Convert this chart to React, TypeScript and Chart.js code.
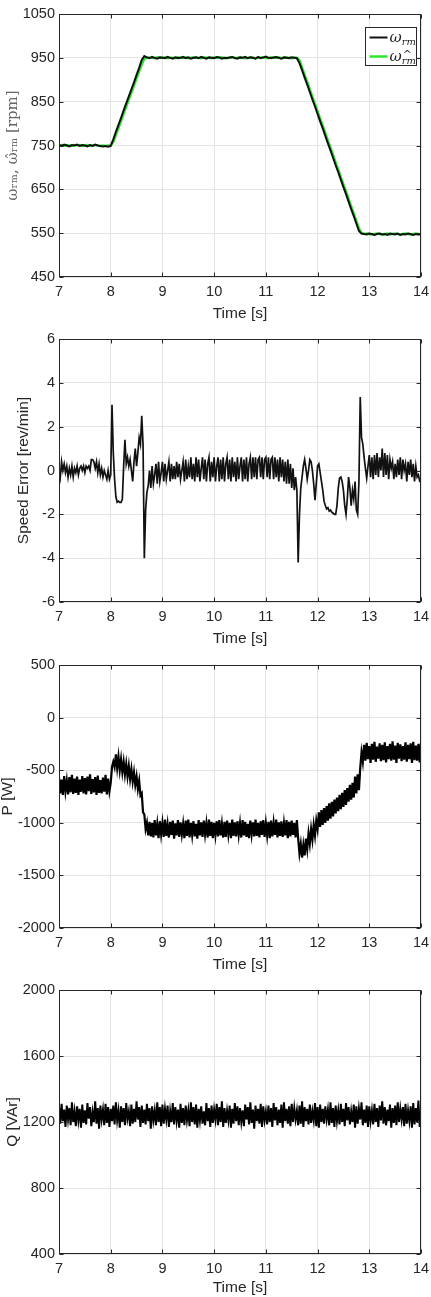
import React, { useEffect, useRef } from "react";
import { Chart, registerables } from "chart.js";

Chart.register(...registerables);

// ---------------- data ----------------
const TIME_START = 7;
const SPEED_STEP = 0.05; // s, panel 1 samples
const FINE_STEP = 0.025; // s, panels 2-4 samples

const TIME_TICKS = [7, 8, 9, 10, 11, 12, 13, 14];
const SPEED_TICKS = [450, 550, 650, 750, 850, 950, 1050];
const ERROR_TICKS = [-6, -4, -2, 0, 2, 4, 6];
const P_TICKS = [-2000, -1500, -1000, -500, 0, 500];
const Q_TICKS = [400, 800, 1200, 1600, 2000];

// measured rotor speed [rpm], 7.00 s .. 14.00 s every 0.05 s
const speedMeasured = [
  751, 749, 752, 750, 748, 751, 750, 752, 749, 751, 750, 748, 751, 749, 752, 750, 749, 748, 749, 747,
  749, 764, 781, 797, 813, 830, 846, 862, 878, 894, 911, 927, 945, 954,
  951, 949, 952, 950, 948, 951, 950, 949, 952, 950,
  948, 951, 949, 950, 952, 949, 951, 948, 950, 951,
  949, 952, 950, 948, 951, 950, 949, 952, 951, 948,
  950, 949, 951, 952, 950, 948, 951, 950, 952, 949,
  951, 950, 948, 952, 949, 951, 953, 950, 949, 951,
  952, 950, 948, 951, 950, 949, 951, 950, 949,
  938, 922, 905, 889, 872, 855, 839, 822, 805, 789, 772, 755, 739, 722, 705, 689, 672, 655, 639, 622, 605, 589, 572, 555,
  549, 548, 547, 549, 548, 546, 548, 549, 547, 548, 546, 549, 548, 547, 549, 546, 548, 547, 549, 548, 546, 548, 547, 548,
];

// estimated rotor speed [rpm]
const speedEstimated = [
  750, 751, 749, 751, 750, 749, 751, 750, 751, 749, 750, 751, 749, 750, 751, 750, 749, 750, 749, 750,
  750, 758, 774, 790, 806, 823, 839, 855, 871, 887, 903, 919, 935, 948,
  950, 951, 950, 949, 951, 950, 950, 951, 949, 950,
  950, 949, 951, 950, 950, 951, 949, 950, 951, 950,
  950, 949, 951, 950, 950, 949, 951, 950, 950, 951,
  949, 950, 950, 951, 949, 950, 951, 950, 949, 950,
  951, 950, 949, 950, 951, 950, 950, 949, 951, 950,
  950, 951, 949, 950, 951, 950, 949, 950, 950,
  944, 928, 911, 895, 878, 861, 845, 828, 811, 795, 778, 761, 745, 728, 711, 695, 678, 661, 645, 628, 611, 595, 578, 561,
  550, 548, 549, 548, 547, 548, 549, 548, 547, 548, 549, 547, 548, 549, 548, 547, 548, 549, 548, 547, 548, 549, 548, 547,
];

// speed error [rev/min], 7.000 s .. 14.000 s every 0.025 s
const speedError = [
  0.1, -0.3, 0.4, 0.0, 0.3, -0.1, 0.2, -0.3, 0.1, -0.2, 0.2, -0.3, 0.1, -0.1, 0.2, -0.2, 0.1, 0.2, 0.0, 0.2,
  -0.1, 0.2, 0.1, 0.2, 0.0, 0.5, 0.5, 0.4, 0.1, 0.4, -0.1, 0.3, -0.2, 0.1, -0.3, 0.0, -0.2, -0.4, 0.0, -0.4,
  -0.2, 3.0, 0.8, -0.4, -1.2, -1.45, -1.4, -1.45, -1.45, -1.3, 0.2, 1.4, 0.3, 0.6, 0.2, 0.5, 0.0, -0.5, 0.4, 1.0,
  0.2, 0.8, 1.5, 1.2, 2.5, 1.2, -4.0, -1.8, -1.0, -0.7, 0.0, -0.8, 0.2, -0.6, -0.2, 0.3, -0.6, 0.4, -0.5, -0.1,
  0.4, -0.5, 0.3, -0.4, 0.0, 0.4, -0.5, 0.3, -0.4, 0.2, -0.4, 0.4, -0.3, 0.3, -0.4, 0.0, 0.4, -0.5, 0.5, -0.4,
  0.2, -0.3, 0.6, -0.4, 0.3, -0.5, 0.6, -0.3, 0.5, -0.5, 0.1, 0.6, -0.4, 0.5, -0.5, 0.3, 0.6, -0.5, 0.4, -0.3,
  0.6, -0.5, 0.2, 0.6, -0.5, 0.5, -0.4, 0.6, -0.5, 0.3, 0.6, -0.4, 0.5, -0.5, 0.6, -0.3, 0.4, -0.5, 0.6, -0.4,
  0.2, 0.6, -0.5, 0.5, -0.4, 0.6, -0.5, 0.3, 0.6, -0.4, 0.6, -0.3, 0.6, -0.4, 0.5, 0.6, -0.3, 0.6, -0.4, 0.5,
  0.6, -0.3, 0.6, -0.4, 0.5, 0.6, -0.4, 0.6, -0.3, 0.5, -0.5, 0.6, -0.3, 0.5, -0.5, 0.4, -0.6, 0.5, -0.6, 0.3,
  -0.8, 0.1, -0.9, -0.3, -0.9, -4.2, -2.0, -0.8, -0.3, 0.2, 0.5, 0.1, -0.4, 0.0, 0.5, 0.4, 0.0, -0.6, -1.35, -0.6,
  0.2, 0.3, -0.1, -0.5, -0.9, -1.4, -1.6, -1.75, -1.7, -1.85, -1.8, -1.9, -1.95, -2.0, -2.0, -1.6, -0.8, -0.35, -0.3, -0.5,
  -0.9, -1.6, -2.0, -1.3, -0.3, -0.8, -1.6, -0.9, -1.3, -0.5, -1.8, -2.0, -0.5, 3.35, 1.5, 1.2, 0.6, 0.1, -0.35, 0.2,
  0.7, -0.3, 0.6, -0.4, 0.7, -0.2, 0.8, -0.3, 0.6, 0.0, 1.0, -0.3, 0.8, -0.2, 0.7, -0.4, 0.5, 0.1, 0.4, -0.4,
  0.3, -0.3, 0.5, -0.2, 0.6, -0.4, 0.5, 0.0, 0.3, -0.5, 0.4, -0.2, 0.5, -0.3, 0.3, -0.5, 0.2, -0.3, -0.2, -0.5,
  -0.5,
];

// active power [W], every 0.025 s
const activePower = [
  -570, -720, -590, -735, -555, -700, -600, -730, -565, -710, -545, -725, -580, -715, -560, -735, -590, -705, -555, -720,
  -575, -730, -560, -700, -540, -725, -585, -710, -565, -735, -550, -715, -595, -720, -570, -705, -545, -730, -580, -700,
  -620, -470, -420, -470, -350, -480, -370, -500, -395, -520, -420, -540, -440, -560, -460, -585, -490, -610, -520, -640,
  -560, -680, -600, -740, -720, -900, -920, -1060, -1000, -1120,
  -990, -1130, -1000, -1140, -975, -1120, -1010, -1145, -985, -1110,
  -1000, -1135, -970, -1125, -1015, -1140, -990, -1115, -980, -1150,
  -1005, -1120, -975, -1135, -995, -1110, -1010, -1145, -980, -1125,
  -970, -1140, -1000, -1115, -985, -1130, -1010, -1150, -975, -1120,
  -995, -1135, -980, -1110, -1005, -1140, -970, -1125, -990, -1145,
  -1000, -1115, -985, -1130, -975, -1120, -1010, -1140, -990, -1135,
  -980, -1110, -1000, -1145, -970, -1125, -995, -1130, -985, -1115,
  -1005, -1140, -975, -1120, -990, -1135, -1010, -1145, -980, -1110,
  -995, -1130, -970, -1125, -1000, -1140, -985, -1115, -975, -1135,
  -1005, -1120, -990, -1145, -980, -1130, -1000, -1115, -970, -1140,
  -995, -1125, -985, -1135, -1005, -1120, -975, -1145, -990, -1130,
  -980, -1115, -1000, -1140, -975,
  -1150, -1290, -1200, -1330, -1210, -1310, -1150, -1250, -1100, -1200, -1060, -1160, -1020, -1120, -980, -1060,
  -900, -1040, -880, -1020, -860, -1000, -840, -980, -815, -960, -800, -940, -780, -910, -760, -890,
  -735, -870, -715, -850, -690, -830, -670, -800, -640, -780, -620, -760, -560, -720, -540,
  -690, -480, -330, -420,
  -260, -410, -240, -395, -270, -430, -250, -400, -230, -420,
  -275, -390, -245, -415, -260, -405, -235, -425, -270, -395,
  -250, -410, -225, -400, -265, -430, -240, -390, -255, -415,
  -270, -400, -235, -420, -260, -395, -245, -430, -230, -405,
  -265, -410, -250, -425, -240,
];

// reactive power [VAr], every 0.025 s
const reactivePower = [
  1290, 1190, 1310, 1205, 1275, 1170, 1300, 1215, 1285, 1180, 1320, 1200, 1265, 1175, 1295, 1210, 1280, 1165, 1305, 1195,
  1270, 1185, 1315, 1220, 1290, 1175, 1260, 1200, 1325, 1190, 1285, 1160, 1300, 1215, 1275, 1180, 1310, 1195, 1290, 1170,
  1280, 1205, 1300, 1185, 1320, 1210, 1270, 1165, 1295, 1200, 1285, 1180, 1315, 1220, 1265, 1175, 1305, 1190, 1280, 1200,
  1325, 1215, 1290, 1170, 1300, 1195, 1275, 1185, 1310, 1205, 1285, 1160, 1295, 1210, 1270, 1180, 1320, 1200, 1290, 1175,
  1305, 1190, 1280, 1215, 1300, 1170, 1265, 1200, 1315, 1185, 1290, 1205, 1275, 1165, 1310, 1195, 1285, 1180, 1300, 1210,
  1270, 1175, 1320, 1200, 1290, 1185, 1305, 1165, 1280, 1210, 1295, 1190, 1265, 1180, 1315, 1205, 1285, 1170, 1300, 1195,
  1275, 1215, 1310, 1180, 1290, 1200, 1325, 1170, 1285, 1195, 1270, 1210, 1300, 1165, 1280, 1190, 1315, 1205, 1295, 1180,
  1285, 1200, 1270, 1175, 1305, 1215, 1290, 1185, 1320, 1195, 1275, 1160, 1300, 1205, 1280, 1190, 1310, 1170, 1295, 1210,
  1265, 1185, 1300, 1200, 1285, 1170, 1315, 1210, 1290, 1180, 1275, 1195, 1305, 1165, 1320, 1205, 1280, 1190, 1295, 1175,
  1310, 1200, 1285, 1215, 1270, 1180, 1300, 1190, 1325, 1170, 1290, 1205, 1280, 1185, 1305, 1195, 1265, 1210, 1315, 1175,
  1290, 1165, 1305, 1200, 1280, 1190, 1295, 1215, 1275, 1180, 1320, 1195, 1285, 1170, 1300, 1205, 1270, 1185, 1310, 1200,
  1280, 1175, 1315, 1210, 1290, 1185, 1265, 1200, 1305, 1165, 1295, 1190, 1280, 1215, 1320, 1180, 1275, 1195, 1300, 1170,
  1295, 1205, 1270, 1185, 1310, 1200, 1285, 1170, 1300, 1210, 1325, 1190, 1290, 1180, 1275, 1205, 1305, 1165, 1285, 1195,
  1300, 1180, 1320, 1200, 1280, 1215, 1290, 1175, 1310, 1190, 1270, 1205, 1295, 1165, 1315, 1185, 1285, 1200, 1330, 1170,
  1250,
];

// ---------------- styling ----------------
const FONT = '"Liberation Sans", Arial, Helvetica, sans-serif';
const SERIF = '"DejaVu Serif", "Liberation Serif", serif';
const INK = "#262626";
const GRID = "#e4e4e4";
const GREEN = "#2ee62e";

const toPoints = (values: number[], step: number) =>
  values.map((v, i) => ({ x: TIME_START + i * step, y: v }));

const boxPlugin = {
  id: "matlabBox",
  afterDatasetsDraw(chart: any) {
    const { ctx, chartArea: a, scales } = chart;
    const l = Math.round(a.left) + 0.5;
    const r = Math.round(a.right) - 0.5;
    const t = Math.round(a.top) + 0.5;
    const b = Math.round(a.bottom) - 0.5;
    ctx.save();
    ctx.strokeStyle = INK;
    ctx.lineWidth = 1;
    ctx.strokeRect(l, t, r - l, b - t);
    const tl = 4;
    ctx.beginPath();
    scales.x.ticks.forEach((tk: any) => {
      const px = Math.round(scales.x.getPixelForValue(tk.value)) + 0.5;
      ctx.moveTo(px, b);
      ctx.lineTo(px, b - tl);
      ctx.moveTo(px, t);
      ctx.lineTo(px, t + tl);
    });
    scales.y.ticks.forEach((tk: any) => {
      const py = Math.round(scales.y.getPixelForValue(tk.value)) + 0.5;
      ctx.moveTo(l, py);
      ctx.lineTo(l + tl, py);
      ctx.moveTo(r, py);
      ctx.lineTo(r - tl, py);
    });
    ctx.stroke();
    ctx.restore();
  },
};

const drawOmega = (ctx: any, x: number, y: number, hat: boolean) => {
  ctx.font = `italic 15px ${SERIF}`;
  ctx.textBaseline = "alphabetic";
  ctx.textAlign = "left";
  ctx.fillStyle = INK;
  ctx.fillText("ω", x, y);
  const w = ctx.measureText("ω").width;
  ctx.font = `italic 10px ${SERIF}`;
  ctx.fillText("rm", x + w, y + 3);
  if (hat) {
    ctx.font = `11px ${SERIF}`;
    ctx.fillText("^", x + w + 1, y - 3);
  }
};

const legendPlugin = {
  id: "speedLegend",
  afterDraw(chart: any) {
    const { ctx, chartArea: a } = chart;
    const w = 51;
    const h = 38;
    const x0 = Math.round(a.right) - 56 + 0.5;
    const y0 = Math.round(a.top) + 13 + 0.5;
    ctx.save();
    ctx.fillStyle = "#ffffff";
    ctx.fillRect(x0, y0, w, h);
    ctx.strokeStyle = INK;
    ctx.lineWidth = 1;
    ctx.strokeRect(x0, y0, w, h);
    ctx.lineWidth = 2;
    ctx.strokeStyle = "#111111";
    ctx.beginPath();
    ctx.moveTo(x0 + 4, y0 + 10);
    ctx.lineTo(x0 + 22, y0 + 10);
    ctx.stroke();
    ctx.strokeStyle = GREEN;
    ctx.lineWidth = 2.5;
    ctx.beginPath();
    ctx.moveTo(x0 + 4, y0 + 29);
    ctx.lineTo(x0 + 22, y0 + 29);
    ctx.stroke();
    drawOmega(ctx, x0 + 24, y0 + 14, false);
    drawOmega(ctx, x0 + 24, y0 + 33, true);
    ctx.restore();
  },
};

type PanelSpec = {
  height: number;
  padTop: number;
  xHeight: number;
  xTitlePad: number;
  yTitle: string;
  yTitlePad: number;
  yTitleFont: any;
  yTitleColor: string;
  yMin: number;
  yMax: number;
  yTicks: number[];
  datasets: any[];
  extraPlugins: any[];
};

const makeConfig = (p: PanelSpec): any => ({
  type: "line",
  data: { datasets: p.datasets },
  options: {
    animation: false,
    responsive: false,
    devicePixelRatio: 1,
    parsing: false,
    layout: { padding: { top: p.padTop, right: 10, left: 0, bottom: 0 } },
    plugins: { legend: { display: false }, tooltip: { enabled: false } },
    elements: { point: { radius: 0 }, line: { tension: 0 } },
    scales: {
      x: {
        type: "linear",
        min: TIME_TICKS[0],
        max: TIME_TICKS[TIME_TICKS.length - 1],
        afterBuildTicks: (s: any) => {
          s.ticks = TIME_TICKS.map((value) => ({ value }));
        },
        afterFit: (s: any) => {
          s.height = p.xHeight;
          s.paddingLeft = 0;
          s.paddingRight = 0;
        },
        ticks: {
          callback: (v: any) => String(v),
          font: { family: FONT, size: 14.5 },
          color: INK,
          padding: 6,
          maxRotation: 0,
          autoSkip: false,
        },
        grid: { color: GRID, lineWidth: 1, drawTicks: false },
        border: { display: false },
        title: {
          display: true,
          text: "Time [s]",
          font: { family: FONT, size: 15.5 },
          color: INK,
          padding: { top: 0, bottom: p.xTitlePad },
        },
      },
      y: {
        type: "linear",
        min: p.yMin,
        max: p.yMax,
        afterBuildTicks: (s: any) => {
          s.ticks = p.yTicks.map((value) => ({ value }));
        },
        afterFit: (s: any) => {
          s.width = 59;
          s.paddingTop = 0;
          s.paddingBottom = 0;
        },
        ticks: {
          callback: (v: any) => String(v),
          font: { family: FONT, size: 14.5 },
          color: INK,
          padding: 4,
          autoSkip: false,
        },
        grid: { color: GRID, lineWidth: 1, drawTicks: false },
        border: { display: false },
        title: {
          display: true,
          text: p.yTitle,
          font: p.yTitleFont,
          color: p.yTitleColor,
          padding: { top: p.yTitlePad, bottom: 0 },
        },
      },
    },
  },
  plugins: [boxPlugin, ...p.extraPlugins],
});

const PANELS: { top: number; spec: PanelSpec }[] = [
  {
    top: 0,
    spec: {
      height: 325,
      padTop: 14,
      xHeight: 48,
      xTitlePad: 2,
      yTitle: "ωᵣₘ, ω̂ᵣₘ [rpm]",
      yTitlePad: 4,
      yTitleFont: { family: SERIF, size: 15 },
      yTitleColor: "#666666",
      yMin: 450,
      yMax: 1050,
      yTicks: SPEED_TICKS,
      datasets: [
        {
          data: toPoints(speedMeasured, SPEED_STEP),
          borderColor: "#111111",
          borderWidth: 2,
        },
        {
          data: toPoints(speedEstimated, SPEED_STEP),
          borderColor: GREEN,
          borderWidth: 2.5,
        },
      ],
      extraPlugins: [legendPlugin],
    },
  },
  {
    top: 325,
    spec: {
      height: 325,
      padTop: 14,
      xHeight: 48,
      xTitlePad: 2,
      yTitle: "Speed Error [rev/min]",
      yTitlePad: 14,
      yTitleFont: { family: FONT, size: 15.5 },
      yTitleColor: INK,
      yMin: -6,
      yMax: 6,
      yTicks: ERROR_TICKS,
      datasets: [
        {
          data: toPoints(speedError, FINE_STEP),
          borderColor: "#111111",
          borderWidth: 1.7,
        },
      ],
      extraPlugins: [],
    },
  },
  {
    top: 650,
    spec: {
      height: 325,
      padTop: 15,
      xHeight: 47,
      xTitlePad: 1,
      yTitle: "P [W]",
      yTitlePad: -2,
      yTitleFont: { family: FONT, size: 15.5 },
      yTitleColor: INK,
      yMin: -2000,
      yMax: 500,
      yTicks: P_TICKS,
      datasets: [
        {
          data: toPoints(activePower, FINE_STEP),
          borderColor: "#000000",
          borderWidth: 2.2,
        },
      ],
      extraPlugins: [],
    },
  },
  {
    top: 975,
    spec: {
      height: 322,
      padTop: 15,
      xHeight: 43,
      xTitlePad: 0,
      yTitle: "Q [VAr]",
      yTitlePad: 3,
      yTitleFont: { family: FONT, size: 15.5 },
      yTitleColor: INK,
      yMin: 400,
      yMax: 2000,
      yTicks: Q_TICKS,
      datasets: [
        {
          data: toPoints(reactivePower, FINE_STEP),
          borderColor: "#000000",
          borderWidth: 2,
        },
      ],
      extraPlugins: [],
    },
  },
];

function Panel({ top, spec }: { top: number; spec: PanelSpec }) {
  const ref = useRef<HTMLCanvasElement | null>(null);
  useEffect(() => {
    if (!ref.current) return;
    const chart = new Chart(ref.current, makeConfig(spec));
    return () => chart.destroy();
  }, [spec]);
  return (
    <div style={{ position: "absolute", left: 0, top, width: 431, height: spec.height }}>
      <canvas
        ref={ref}
        width={431}
        height={spec.height}
        style={{ display: "block", width: 431, height: spec.height }}
      />
    </div>
  );
}

export default function App() {
  return (
    <div
      style={{
        position: "absolute",
        left: 0,
        top: 0,
        width: 431,
        height: 1297,
        background: "#ffffff",
        overflow: "hidden",
      }}
    >
      {PANELS.map((p) => (
        <Panel key={p.top} top={p.top} spec={p.spec} />
      ))}
    </div>
  );
}
